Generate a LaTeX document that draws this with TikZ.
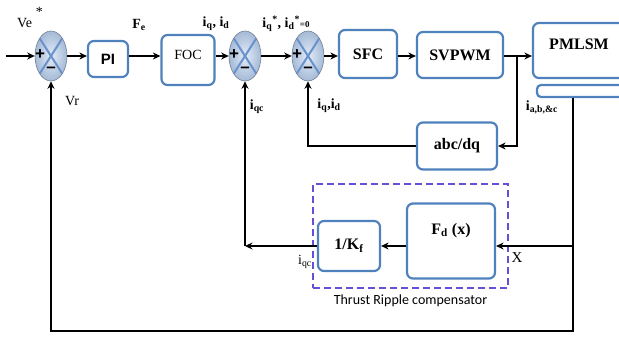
\documentclass[tikz,border=0pt]{standalone}
\usepackage{fontspec}
\setmainfont{Liberation Serif}
\setsansfont{Liberation Sans}
\newfontfamily\calib{Carlito}
\usepackage{tikz}
\usetikzlibrary{arrows.meta,positioning,shapes.geometric}
\definecolor{cbord}{RGB}{79,129,189}
\definecolor{cxbleu}{RGB}{105,146,205}
\definecolor{cclair}{RGB}{226,236,248}
\definecolor{cfonce}{RGB}{165,186,214}
\definecolor{cviolet}{RGB}{100,80,215}
\tikzset{
  blk/.style={draw=cbord, line width=2.2pt, rounded corners=6pt, fill=white, inner sep=0pt,
    font=\fontsize{16}{18}\selectfont\bfseries},
  sumnode/.style={ellipse, draw=cfonce!70!black, line width=0.6pt, inner color=cclair,
    outer color=cfonce, minimum width=32pt, minimum height=50pt, inner sep=0pt,
    path picture={\draw[cxbleu, line width=2pt]
      (path picture bounding box.north west) -- (path picture bounding box.south east)
      (path picture bounding box.north east) -- (path picture bounding box.south west);}},
  sgn/.style={font=\sffamily\bfseries\fontsize{17}{17}\selectfont, inner sep=0pt},
  lab/.style={font=\fontsize{14}{16}\selectfont, inner sep=0pt},
  blab/.style={lab, font=\fontsize{14}{16}\selectfont\bfseries},
  wire/.style={line width=2.1pt},
  dashbox/.style={draw=cviolet, line width=1.3pt, dash pattern=on 7pt off 4pt}
}

\begin{document}
\begin{tikzpicture}[x=1pt, y=-1pt, >={Stealth[length=7.5pt,width=7pt]}]
\useasboundingbox (0,0) rectangle (619,337);
\node[sumnode] (s1) at (51,56) {};
\node[sumnode] (s2) at (245,56) {};
\node[sumnode] (s3) at (308,56) {};
\node[blk, font=\sffamily\bfseries\fontsize{15}{17}\selectfont, minimum width=40pt, minimum height=36pt] (pi) at (108,59) {PI};
\node[blk, font=\fontsize{14}{16}\selectfont, minimum width=53pt, minimum height=50pt, text depth=10pt] (foc) at (188,60) {FOC};
\node[blk, minimum width=58pt, minimum height=48pt] (sfc) at (368,54) {SFC};
\node[blk, minimum width=86pt, minimum height=46pt] (svpwm) at (460,55) {SVPWM};
\node[blk, minimum width=92pt, minimum height=55pt, text depth=13pt] (pmlsm) at (579,50.5) {PMLSM};
\node[blk, rounded corners=4pt, minimum width=88pt, minimum height=12pt] (bar) at (581,91) {};
\node[blk, minimum width=80pt, minimum height=47pt] (abc) at (457,146) {abc/dq};
\node[dashbox, minimum width=195pt, minimum height=104pt] (trc) at (410.5,236) {};
\node[blk, minimum width=62pt, minimum height=50pt] (kf) at (349,246) {1/K\textsubscript{f}};
\node[blk, font=\fontsize{16}{18}\selectfont\bfseries, minimum width=88pt, minimum height=75pt, text depth=25pt] (fd) at (451,241) {F\textsubscript{d} (x)};
\node[font=\calib\fontsize{14}{16}\selectfont, below=3pt of trc] (trtxt) {Thrust Ripple compensator};

\foreach \s in {s1,s2,s3} {
  \node[sgn] (\s p) at ([shift={(-11,-1)}]\s.center) {+};
  \node[sgn] (\s m) at ([shift={(0,14)}]\s.center) {\textendash};
}

\node[lab, anchor=base west] (ve) at (17,28) {Ve\hspace{4pt}\raisebox{11pt}{*}};
\node[lab] (vr) at (72,101) {Vr};
\node[blab] (fe) at (139,25) {F\textsubscript{e}};
\node[blab] (iqd) at (216,24) {i\textsubscript{q}, i\textsubscript{d}};
\node[blab] (iqdref) at (286,24) {i\textsubscript{q}\textsuperscript{*}, i\textsubscript{d}\textsuperscript{*}{\fontsize{9}{9}\selectfont=0}};
\node[blab] (iqc) at (257,107) {i\textsubscript{qc}};
\node[blab] (iqdm) at (329,106) {i\textsubscript{q},i\textsubscript{d}};
\node[blab] (iabc) at (542,107) {i\textsubscript{a,b,\&c}};
\node[lab] (iqcb) at (305,262) {i\textsubscript{qc}};
\node[lab, font=\fontsize{15}{17}\selectfont] (xlab) at (517,258) {X};

\coordinate (in) at (6,56);
\coordinate (br) at (517,56);
\coordinate (fb) at (573,331);
\coordinate (qc) at (s2 |- kf);
\draw[wire,->] (in) -- (s1.west);
\foreach \a/\b in {s1/pi,pi/foc,foc/s2,s2/s3,s3/sfc,sfc/svpwm,svpwm/pmlsm}
  \draw[wire,->] (\a.east |- s1) -- (\b.west |- s1);
\draw[wire,->] (br) |- (abc.east);
\draw[wire,->] (abc.west) -| (s3.south);
\draw[wire,->] (bar.south -| fb) -- (fb) -| (s1.south);
\draw[wire,->] (fb |- kf) -- (fd.east |- kf);
\draw[wire,->] (fd.west |- kf) -- (kf.east);
\draw[wire,->] (kf.west) -- (qc);
\draw[wire,->] (qc) -- (s2.south);
\end{tikzpicture}
\end{document}
